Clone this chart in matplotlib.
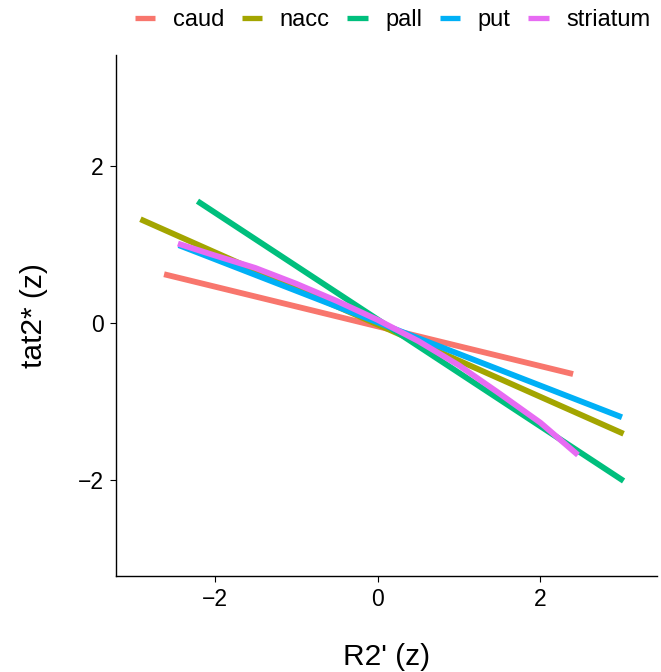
import numpy as np
import matplotlib.pyplot as plt

plt.rcParams['font.family'] = ['Liberation Sans', 'DejaVu Sans']

regions = ['caud', 'nacc', 'pall', 'put', 'striatum']
colors = ['#F8766D', '#A3A500', '#00BF7D', '#00B0F6', '#E76BF3']

# fitted lines: x and y at each end, per region
caud_x = [-2.62, 2.40]
caud_y = [0.62, -0.65]
nacc_x = [-2.91, 3.02]
nacc_y = [1.32, -1.41]
pall_x = [-2.21, 3.02]
pall_y = [1.55, -2.01]
put_x = [-2.44, 3.00]
put_y = [0.99, -1.20]
# striatum fit bends a little, keep its points
striatum_x = [-2.45, -2.0, -1.5, -1.0, -0.5, 0.0, 0.5, 1.0, 1.5, 2.0, 2.46]
striatum_y = [1.01, 0.86, 0.70, 0.50, 0.28, 0.04, -0.23, -0.54, -0.90, -1.27, -1.68]

xs = [caud_x, nacc_x, pall_x, put_x, striatum_x]
ys = [caud_y, nacc_y, pall_y, put_y, striatum_y]

fig = plt.figure(figsize=(6.61, 6.72), dpi=100)
ax = fig.add_axes([116/661, 96/672, 541/661, 521/672])

for name, col, x, y in zip(regions, colors, xs, ys):
    ax.plot(x, y, color=col, lw=4.2, label=name, solid_capstyle='butt')

ax.set_xlim(-3.21, 3.43)
ax.set_ylim(-3.22, 3.41)
ax.set_xticks([-2, 0, 2])
ax.set_yticks([-2, 0, 2])
ax.set_xticklabels(['\u22122', '0', '2'])
ax.set_yticklabels(['\u22122', '0', '2'])
for s in ['top', 'right']:
    ax.spines[s].set_visible(False)
for s in ['left', 'bottom']:
    ax.spines[s].set_linewidth(1.0)
ax.tick_params(labelsize=16.5, length=4, width=0.8, colors='black', pad=5)
ax.set_xlabel("R2' (z)", fontsize=21.5, labelpad=23)
ax.set_ylabel("tat2* (z)", fontsize=21.5, labelpad=21)

leg = fig.legend(loc='upper right', bbox_to_anchor=(1.005, 1.008), ncol=5, frameon=False,
                 fontsize=17, handlelength=0.87, handletextpad=0.74, columnspacing=0.74,
                 borderaxespad=0.2)
for h in leg.get_lines():
    h.set_linewidth(3.8)

fig.savefig('out.png', dpi=100)
